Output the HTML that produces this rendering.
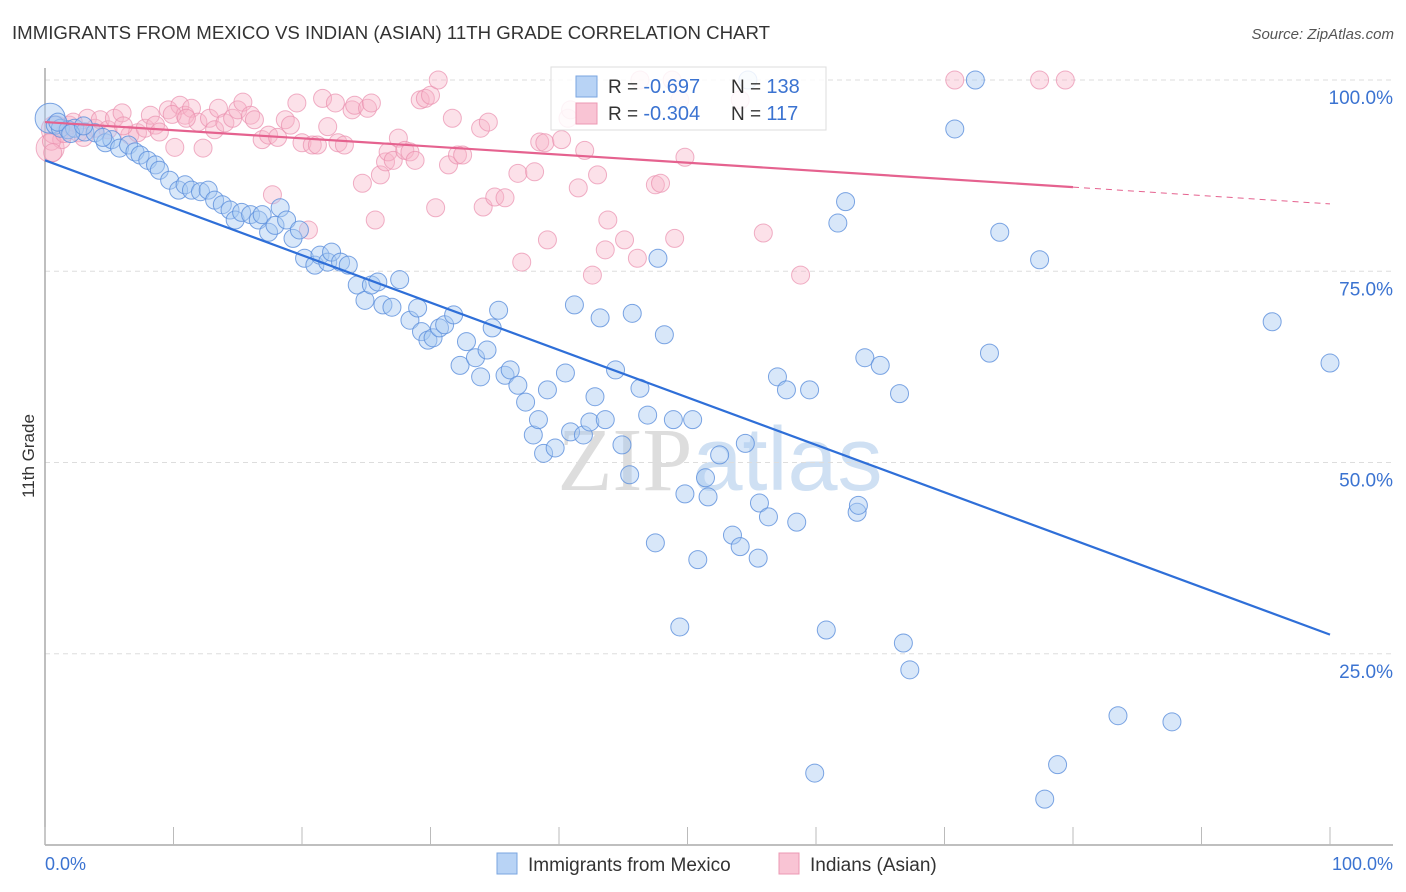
<!DOCTYPE html>
<html><head><meta charset="utf-8"><style>
body{margin:0;background:#fff;font-family:"Liberation Sans",sans-serif;}
svg{display:block}
</style></head><body>
<svg id="chart" width="1406" height="892" xmlns="http://www.w3.org/2000/svg">
<text x="12" y="39" font-size="18" fill="#333" textLength="758" lengthAdjust="spacingAndGlyphs">IMMIGRANTS FROM MEXICO VS INDIAN (ASIAN) 11TH GRADE CORRELATION CHART</text>
<text x="1394" y="39" font-size="15" fill="#555" font-style="italic" text-anchor="end">Source: ZipAtlas.com</text>
<text x="34" y="456" font-size="17" fill="#333" text-anchor="middle" transform="rotate(-90 34 456)">11th Grade</text>
<text x="720" y="490" font-size="90" fill="#ddd" text-anchor="middle" font-family="Liberation Serif">ZIP<tspan fill="#cfe0f3" font-family="Liberation Sans">atlas</tspan></text>
<g id="grid"></g><g id="axes"></g><g id="pink"></g><g id="blue"></g><g id="lines"></g>
<g>
<rect x="551" y="67" width="275" height="63" fill="#fff" fill-opacity="0.85" stroke="#ddd"/>
<rect x="576" y="76" width="21" height="21" fill="#b8d3f5" stroke="#7aa6e0"/>
<rect x="576" y="103" width="21" height="21" fill="#f9c4d4" stroke="#ec98b3"/>
<text x="608" y="93" font-size="19" fill="#333">R = <tspan fill="#3b73d1" font-size="20">-0.697</tspan></text>
<text x="731" y="93" font-size="19" fill="#333">N = <tspan fill="#3b73d1" font-size="20">138</tspan></text>
<text x="608" y="120" font-size="19" fill="#333">R = <tspan fill="#3b73d1" font-size="20">-0.304</tspan></text>
<text x="731" y="120" font-size="19" fill="#333">N = <tspan fill="#3b73d1" font-size="20"> 117</tspan></text>
</g>
<g>
<rect x="497" y="853" width="20" height="21" fill="#b8d3f5" stroke="#7aa6e0"/>
<text x="528" y="871" font-size="19" fill="#333">Immigrants from Mexico</text>
<rect x="779" y="853" width="20" height="21" fill="#f9c4d4" stroke="#ec98b3"/>
<text x="810" y="871" font-size="19" fill="#333">Indians (Asian)</text>
</g>
</svg>
<script>
const yTicks=[25,50,75,100];
const yTickLabels=["25.0%","50.0%","75.0%","100.0%"];
const xTicks=[0,10,20,30,40,50,60,70,80,90,100];
const blueX=[0.4,0.8,1.2,1.8,2.3,3.1,3.9,4.7,5.2,5.8,6.5,7.0,7.4,8.0,8.6,8.9,9.7,10.4,10.9,11.4,12.1,12.7,13.2,13.8,14.4,14.8,15.3,16.0,16.6,16.9,17.4,17.9,18.3,18.8,19.3,19.8,20.2,21.0,21.4,22.0,22.3,23.0,23.6,24.3,24.9,25.4,25.9,26.3,27.0,27.6,28.4,29.0,29.3,29.8,30.2,30.7,31.1,31.8,32.3,32.8,33.5,33.9,34.4,34.8,35.3,35.8,36.2,36.8,37.4,38.0,38.4,38.8,39.1,39.7,40.5,40.9,41.2,41.9,42.4,42.8,43.2,43.6,44.4,44.9,45.5,45.7,46.3,46.9,47.5,48.2,48.9,49.4,49.8,50.4,50.8,51.4,51.6,52.5,53.5,54.1,54.5,55.5,55.6,56.3,57.0,57.7,58.5,59.5,59.9,60.8,61.7,62.3,63.2,63.3,63.8,65.0,66.5,66.8,67.3,70.8,72.4,73.5,74.3,77.4,77.8,78.8,83.5,87.7,95.5,100,47.7,54.7,1.0,2.0,3.0,4.5];
const blueY=[95.0,94.1,93.7,93.5,93.7,93.2,93.1,91.8,92.2,91.1,91.5,90.6,90.2,89.5,88.9,88.2,86.9,85.6,86.3,85.6,85.4,85.6,84.3,83.7,83.0,81.7,82.7,82.4,81.7,82.4,80.1,81.0,83.3,81.7,79.3,80.4,76.7,75.8,77.1,76.2,77.5,76.2,75.8,73.2,71.2,73.2,73.6,70.6,70.3,73.9,68.6,70.2,67.1,66.0,66.3,67.6,68.0,69.3,62.7,65.8,63.7,61.2,64.7,67.6,69.9,61.4,62.1,60.1,57.9,53.6,55.6,51.2,59.5,51.9,61.7,54.0,70.6,53.6,55.3,58.6,68.9,55.6,62.1,52.3,48.4,69.5,59.7,56.2,39.5,66.7,55.6,28.5,45.9,55.6,37.3,48.0,45.5,51.0,40.5,39.0,52.5,37.5,44.7,42.9,61.2,59.5,42.2,59.5,9.4,28.1,81.3,84.1,43.5,44.4,63.7,62.7,59.0,26.4,22.9,93.6,100,64.3,80.1,76.5,6.0,10.5,16.9,16.1,68.4,63.0,76.7,100,94.5,93.0,94.0,92.5];
const pinkX=[0.4,0.8,1.3,1.9,2.6,3.3,3.9,4.3,4.9,5.4,6.0,6.6,7.2,7.8,8.2,8.6,8.9,9.6,10.1,10.5,10.9,11.4,11.9,12.3,12.8,13.2,13.5,14.0,14.6,15.0,15.4,16.0,16.3,16.9,17.4,17.7,18.1,18.7,19.1,19.6,20.0,20.5,20.8,21.2,21.6,22.0,22.6,22.8,23.3,23.9,24.1,24.7,25.1,25.4,25.7,26.1,26.5,26.7,27.1,27.5,28.0,28.4,28.8,29.2,29.6,30.0,30.4,30.6,31.4,31.7,32.1,32.5,33.9,34.1,34.5,35.0,35.8,36.8,37.1,38.1,38.5,38.9,39.1,40.2,40.7,40.9,41.5,42.0,42.6,43.0,43.6,43.8,45.1,46.1,46.3,47.5,47.9,48.8,49.0,49.4,49.8,54.1,55.9,58.8,70.8,77.4,79.4,0.5,1.5,2.2,3.0,0.6,9.9,11.0,6.1];
const pinkY=[91.1,93.5,92.2,94.1,93.1,95.0,93.7,94.8,93.5,95.0,95.7,92.8,93.1,93.7,95.4,94.1,93.2,96.1,91.2,96.7,95.4,96.3,94.5,91.1,95.0,93.5,96.3,94.4,95.0,96.1,97.1,95.4,94.8,92.2,92.8,85.0,92.5,94.8,94.1,97.0,91.8,80.4,91.5,91.5,97.6,93.9,97.0,91.8,91.5,96.1,96.7,86.5,96.3,97.0,81.7,87.6,89.3,90.6,89.5,92.4,90.8,90.6,89.5,97.4,97.6,98.0,83.3,100,88.9,95.0,90.2,90.2,93.7,83.4,94.5,84.7,84.6,87.8,76.2,88.0,91.9,91.8,79.1,92.2,95.0,96.1,85.9,90.8,74.5,87.6,77.8,81.7,79.1,76.7,100,86.3,86.5,100,79.3,97.4,89.9,97.4,80.0,74.5,100,100,100,92.0,93.0,94.5,92.5,90.5,95.5,95.0,94.0];
const blueLine=[89.5,27.5];
const pinkLine=[94.5,86.0,83.8];
const X0=45,X1=1330,Y0=845,Y100=80;
const sx=v=>X0+(X1-X0)*v/100, sy=v=>Y0-(Y0-Y100)*v/100;
const NS="http://www.w3.org/2000/svg";
function mk(tag,parent,attrs){const e=document.createElementNS(NS,tag);for(const k in attrs)e.setAttribute(k,attrs[k]);document.getElementById(parent).appendChild(e);return e;}
yTicks.forEach((t,i)=>{
 const l=mk('line','grid',{x1:X0,x2:1393,y1:sy(t),y2:sy(t),stroke:'#ddd','stroke-dasharray':'5,4'});
 
 
 const tx=mk('text','grid',{x:1393,y:sy(t)+24,'font-size':19,fill:'#3b73d1','text-anchor':'end'});
 tx.textContent=yTickLabels[i];
 
 
});
const ax=mk('line','axes',{x1:X0,x2:1393,y1:Y0,y2:Y0,stroke:'#aaa','stroke-width':1.5});


const ay=mk('line','axes',{x1:X0,x2:X0,y1:68,y2:Y0,stroke:'#aaa','stroke-width':1.5});


xTicks.forEach(t=>{
 const l=mk('line','axes',{x1:sx(t),x2:sx(t),y1:Y0-18,y2:Y0,stroke:'#bbb'});
 
 
});
const xl0=mk('text','axes',{x:X0,y:870,'font-size':18,fill:'#3b73d1'});xl0.textContent='0.0%';


const xl1=mk('text','axes',{x:1393,y:870,'font-size':18,fill:'#3b73d1','text-anchor':'end'});xl1.textContent='100.0%';


pinkX.forEach((x,i)=>{
 const c=mk('circle','pink',{cx:sx(x),cy:sy(pinkY[i]),r:i<2?14:9,fill:'#f7b3c8','fill-opacity':0.4,stroke:'#ea8fae','stroke-opacity':0.7});
 
 
});
blueX.forEach((x,i)=>{
 const c=mk('circle','blue',{cx:sx(x),cy:sy(blueY[i]),r:i==0?15:9,fill:'#a9c9f2','fill-opacity':0.45,stroke:'#5b8fdc','stroke-opacity':0.8});
 
 
});
const bl=mk('line','lines',{x1:sx(0),y1:sy(blueLine[0]),x2:sx(100),y2:sy(blueLine[1]),stroke:'#2f6fd8','stroke-width':2.2});


const pl=mk('line','lines',{x1:sx(0),y1:sy(pinkLine[0]),x2:sx(80),y2:sy(pinkLine[1]),stroke:'#e5628f','stroke-width':2.2});


const pd=mk('line','lines',{x1:sx(80),y1:sy(pinkLine[1]),x2:sx(100),y2:sy(pinkLine[2]),stroke:'#e5628f','stroke-width':1,'stroke-dasharray':'6,5'});


</script>
</body></html>
